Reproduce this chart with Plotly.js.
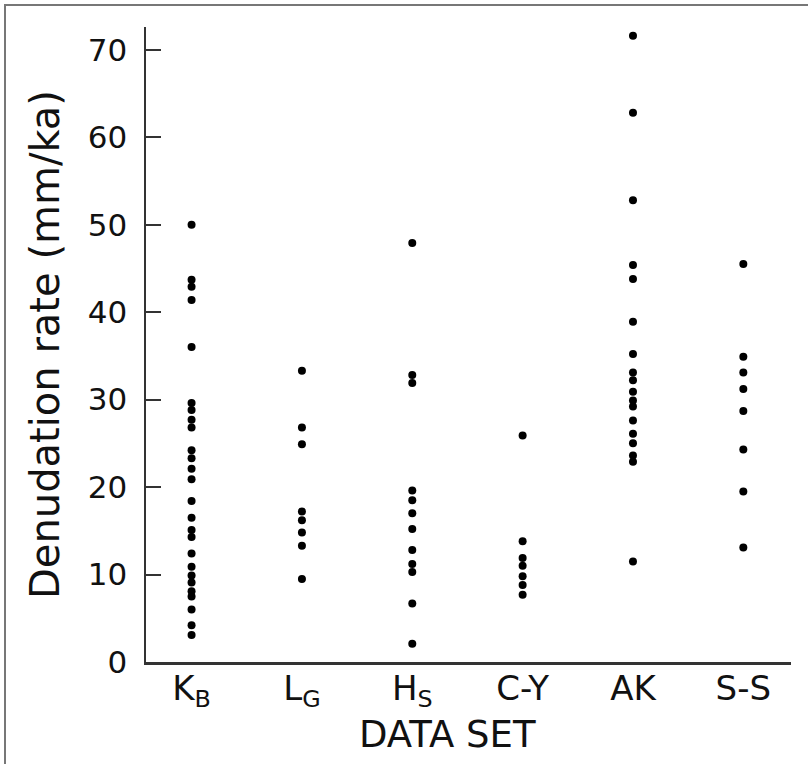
<!DOCTYPE html>
<html>
<head>
<meta charset="utf-8">
<script src="https://cdn.plot.ly/plotly-3.0.1.min.js"></script>
<style>
  html, body { margin: 0; padding: 0; background: #fff; }
  #frame { position: absolute; left: 4px; top: 4px; width: 820px; height: 780px;
           border-left: 2px solid #777; border-top: 2px solid #777; }
  #chart { position: absolute; left: 0; top: 0; width: 808px; height: 764px; }
</style>
</head>
<body>
<div id="frame"></div>
<div id="chart"></div>
<script>
// Categories (data sets)
const categories = ["K<sub>B</sub>", "L<sub>G</sub>", "H<sub>S</sub>", "C-Y", "AK", "S-S"];

// Denudation rates (mm/ka) per data set
const KB = [50, 43.7, 42.9, 41.4, 36.0, 29.6, 28.8, 27.7, 26.8, 24.2, 23.3, 22.1, 20.9, 18.4, 16.5, 15.1, 14.3, 12.4, 10.9, 9.9, 9.1, 8.1, 7.5, 6.0, 4.2, 3.1];
const LG = [33.3, 26.8, 24.9, 17.2, 16.2, 14.8, 13.3, 9.5];
const HS = [47.9, 32.8, 31.9, 19.6, 18.5, 17.0, 15.2, 12.8, 11.2, 10.3, 6.7, 2.1];
const CY = [25.9, 13.8, 11.9, 11.0, 9.8, 8.8, 7.7];
const AK = [71.6, 62.8, 52.8, 45.4, 43.8, 38.9, 35.2, 33.1, 32.2, 30.9, 29.9, 29.2, 27.6, 26.1, 25.0, 23.6, 22.9, 11.5];
const SS = [45.5, 34.9, 33.1, 31.2, 28.7, 24.3, 19.5, 13.1];

const yTicks = [0, 10, 20, 30, 40, 50, 60, 70];

const xTitle = "DATA SET";
const yTitle = "Denudation rate (mm/ka)";

const seriesList = [KB, LG, HS, CY, AK, SS];

const traces = seriesList.map((vals, i) => ({
  type: "scatter",
  mode: "markers",
  x: vals.map(() => categories[i]),
  y: vals,
  marker: { color: "#000", size: 8 },
  hoverinfo: "x+y",
  showlegend: false
}));

const FONT = "DejaVu Sans, Verdana, sans-serif";

const layout = {
  width: 808,
  height: 764,
  margin: { l: 146, r: 17, t: 27, b: 102 },
  paper_bgcolor: "rgba(0,0,0,0)",
  plot_bgcolor: "rgba(0,0,0,0)",
  font: { family: FONT, color: "#111" },
  xaxis: {
    type: "category",
    categoryorder: "array",
    categoryarray: categories,
    range: [-0.413, 5.432],
    showline: true,
    linecolor: "#333",
    linewidth: 2.5,
    showgrid: false,
    zeroline: false,
    ticks: "",
    ticklabelstandoff: -5,
    tickfont: { size: 34, family: FONT, color: "#111" }
  },
  yaxis: {
    range: [0, 72.6],
    tickvals: yTicks,
    ticktext: yTicks.map(String),
    showline: true,
    linecolor: "#333",
    linewidth: 2.5,
    showgrid: false,
    zeroline: false,
    ticks: "inside",
    ticklen: 15,
    tickwidth: 2,
    tickcolor: "#333",
    ticklabelstandoff: 10,
    tickfont: { size: 31, family: FONT, color: "#111" },
    title: { text: yTitle, font: { size: 40, family: FONT, color: "#111" }, standoff: 16 }
  },
  annotations: [{
    text: xTitle,
    xref: "paper", yref: "paper",
    x: 0.467, y: -0.114,
    xanchor: "center", yanchor: "middle",
    showarrow: false,
    font: { size: 37, family: FONT, color: "#111" }
  }]
};

Plotly.newPlot("chart", traces, layout, { staticPlot: true, displayModeBar: false });
</script>
</body>
</html>
